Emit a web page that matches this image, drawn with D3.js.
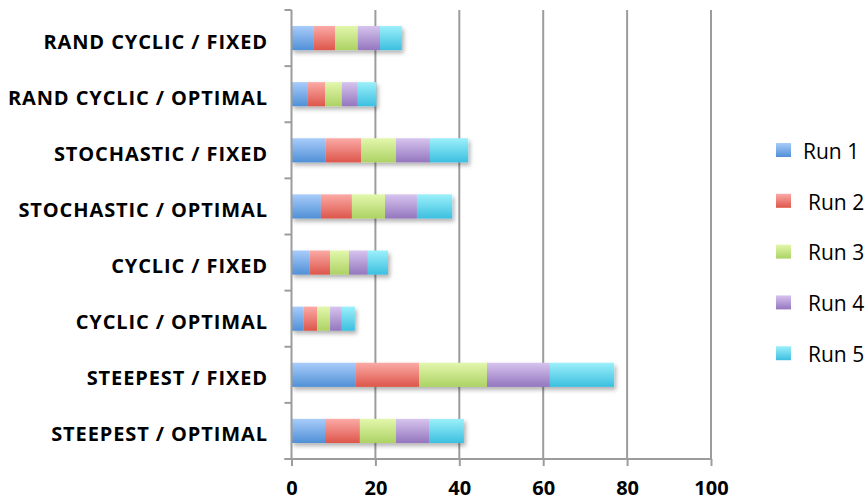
<!DOCTYPE html>
<html>
<head>
<meta charset="utf-8">
<script src="https://cdn.jsdelivr.net/npm/d3@7"></script>
<style>
  html, body { margin: 0; padding: 0; background: #fff; }
  svg { display: block; }
</style>
</head>
<body>
<svg id="chart" width="868" height="502"></svg>
<script>
// Categories, listed top to bottom
const categories = [
  "RAND CYCLIC / FIXED",
  "RAND CYCLIC / OPTIMAL",
  "STOCHASTIC / FIXED",
  "STOCHASTIC / OPTIMAL",
  "CYCLIC / FIXED",
  "CYCLIC / OPTIMAL",
  "STEEPEST / FIXED",
  "STEEPEST / OPTIMAL"
];
const seriesNames = ["Run 1", "Run 2", "Run 3", "Run 4", "Run 5"];
// One value per category for each run (same order as categories)
const run1 = [5.2, 3.9, 8.1, 7.0, 4.3, 2.9, 15.2, 8.0];
const run2 = [5.2, 4.1, 8.5, 7.4, 4.9, 3.2, 15.2, 8.3];
const run3 = [5.4, 4.0, 8.3, 7.9, 4.5, 3.1, 16.2, 8.6];
const run4 = [5.3, 3.8, 8.1, 7.6, 4.5, 2.8, 15.0, 7.9];
const run5 = [5.2, 4.4, 9.1, 8.4, 4.8, 3.1, 15.3, 8.3];
const xTicks = [0, 20, 40, 60, 80, 100];

const runs = [run1, run2, run3, run4, run5];
const gradColors = [
  ["#a8ccfa", "#5090d6"],
  ["#fbaaa6", "#dd564b"],
  ["#e3f7ac", "#acd264"],
  ["#d6c4ee", "#9476be"],
  ["#9cf0fa", "#3cbfe0"]
];

const svg = d3.select("#chart");
const plotLeft = 291.5, plotRight = 711, plotTop = 10, plotBottom = 459;

const x = d3.scaleLinear().domain([0, 100]).range([plotLeft, plotRight]);
const y = d3.scaleBand().domain(categories).range([plotTop, plotBottom]).paddingInner(0.57).paddingOuter(0.285);
const color = d3.scaleOrdinal().domain(seriesNames).range(gradColors);

const defs = svg.append("defs");
seriesNames.forEach((s, i) => {
  const g = defs.append("linearGradient").attr("id", "grad" + i)
    .attr("x1", 0).attr("y1", 0).attr("x2", 0).attr("y2", 1);
  g.append("stop").attr("offset", "0%").attr("stop-color", color(s)[0]);
  g.append("stop").attr("offset", "100%").attr("stop-color", color(s)[1]);
});
const f = defs.append("filter").attr("id", "shadow")
  .attr("x", "-10%").attr("y", "-30%").attr("width", "130%").attr("height", "180%");
f.append("feDropShadow").attr("dx", 2).attr("dy", 3).attr("stdDeviation", 2.2)
  .attr("flood-color", "#000").attr("flood-opacity", 0.3);

const gridColor = "#9c9c9c";
const fontFamily = "'Open Sans', sans-serif";

// Vertical gridlines
svg.append("g").selectAll("line").data(xTicks.slice(1)).join("line")
  .attr("x1", d => x(d)).attr("x2", d => x(d))
  .attr("y1", plotTop).attr("y2", plotBottom)
  .attr("stroke", gridColor).attr("stroke-width", 2);

// Stacked bars
const table = categories.map((c, i) => {
  const row = { category: c };
  seriesNames.forEach((s, j) => row[s] = runs[j][i]);
  return row;
});
const stacked = d3.stack().keys(seriesNames)(table);

const rows = svg.append("g").selectAll("g.row").data(categories).join("g")
  .attr("class", "row").attr("filter", "url(#shadow)");
rows.each(function(cat, ci) {
  d3.select(this).selectAll("rect").data(stacked.map((layer, si) => ({ si, d: layer[ci] })))
    .join("rect")
    .attr("x", e => x(e.d[0]))
    .attr("width", e => x(e.d[1]) - x(e.d[0]))
    .attr("y", y(cat))
    .attr("height", y.bandwidth())
    .attr("fill", e => `url(#grad${e.si})`);
});

// Bottom axis
const xAxis = d3.axisBottom(x).tickValues(xTicks).tickSize(7).tickPadding(15);
const gx = svg.append("g").attr("transform", `translate(0,${plotBottom})`).call(xAxis);
gx.select(".domain").attr("stroke", gridColor).attr("stroke-width", 2)
  .attr("d", `M${plotLeft - 7},0H${plotRight + 1}`);
gx.selectAll(".tick line").attr("stroke", gridColor).attr("stroke-width", 2);
gx.selectAll(".tick text")
  .attr("fill", "#000")
  .style("font-family", fontFamily)
  .style("font-weight", "bold")
  .style("font-size", "20px");

// Left axis line with ticks at the band boundaries
const gy = svg.append("g");
gy.append("line").attr("x1", plotLeft).attr("x2", plotLeft).attr("y1", plotTop).attr("y2", plotBottom)
  .attr("stroke", gridColor).attr("stroke-width", 2);
const step = y.step();
gy.selectAll("line.tk").data(d3.range(categories.length + 1)).join("line")
  .attr("class", "tk")
  .attr("x1", plotLeft - 7).attr("x2", plotLeft)
  .attr("y1", i => plotTop + i * step).attr("y2", i => plotTop + i * step)
  .attr("stroke", gridColor).attr("stroke-width", 2);
gy.selectAll("text").data(categories).join("text")
  .attr("x", 268)
  .attr("y", d => y(d) + y.bandwidth() / 2 + 3.5)
  .attr("dy", "0.35em")
  .attr("text-anchor", "end")
  .style("font-family", fontFamily)
  .style("font-weight", "bold")
  .style("font-size", "20px")
  .style("letter-spacing", "0.9px")
  .text(d => d);

// Legend
const legend = svg.append("g");
const lg = legend.selectAll("g").data(seriesNames).join("g")
  .attr("transform", (d, i) => `translate(776,${150 + i * 50.8})`);
lg.append("rect").attr("x", 0).attr("y", -7).attr("width", 15).attr("height", 14)
  .attr("fill", (d, i) => `url(#grad${i})`);
lg.append("text")
  .attr("x", (d, i) => i === 0 ? 27 : 32)
  .attr("y", 1.5)
  .attr("dy", "0.35em")
  .style("font-family", fontFamily)
  .style("font-size", "21px")
  .attr("fill", "#000")
  .text(d => d);
</script>
</body>
</html>
